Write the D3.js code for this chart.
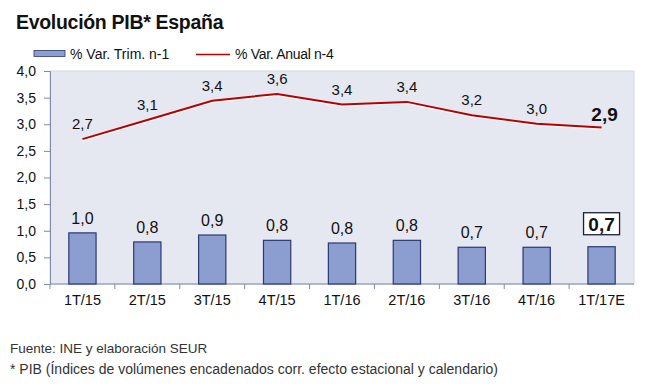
<!DOCTYPE html>
<html>
<head>
<meta charset="utf-8">
<script src="https://cdn.jsdelivr.net/npm/d3@7/dist/d3.min.js"></script>
<style>
  body { margin: 0; background: #fff; }
  svg { display: block; font-family: "Liberation Sans", Arial, sans-serif; }
</style>
</head>
<body>
<svg id="chart" width="650" height="389"></svg>
<script>
// data
var quarters = ['1T/15', '2T/15', '3T/15', '4T/15', '1T/16', '2T/16', '3T/16', '4T/16', '1T/17E']
var varTrim = [0.96, 0.79, 0.92, 0.82, 0.77, 0.82, 0.69, 0.69, 0.70]
var varAnual = [2.72, 3.08, 3.44, 3.57, 3.37, 3.42, 3.17, 3.01, 2.94]
var yTicks = [0, 0.5, 1, 1.5, 2, 2.5, 3, 3.5, 4]

var colorBar = '#8c9ecf'
var colorBarEdge = '#2b3872'
var colorLine = '#b80000'
var colorAxis = '#7f89ad'

var svg = d3.select('#chart')
var margin = { left: 50, right: 16, top: 71, bottom: 105 }
var width = 650, height = 389

var x = d3.scaleBand().domain(quarters).range([margin.left, width - margin.right]).paddingInner(0.58).paddingOuter(0.29)
var xEdges = d3.scaleBand().domain(quarters).range([margin.left, width - margin.right])
var y = d3.scaleLinear().domain([0, 4]).range([height - margin.bottom, margin.top])

var fmt = v => d3.format('.1f')(v).replace('.', ',')

// plot background
svg.append('rect')
    .attr('x', margin.left).attr('y', margin.top)
    .attr('width', width - margin.right - margin.left)
    .attr('height', y(0) - margin.top)
    .attr('fill', '#e6e8f1')
    .attr('stroke', '#d4d7e2')

// title
svg.append('text')
    .attr('x', 16).attr('y', 29)
    .attr('font-size', 19.5).attr('font-weight', 'bold').attr('fill', '#111')
    .attr('letter-spacing', -0.3)
    .text('Evolución PIB* España')

// legend
svg.append('rect').attr('x', 34).attr('y', 50.5).attr('width', 31).attr('height', 6)
    .attr('fill', colorBar).attr('stroke', colorBarEdge).attr('stroke-width', 0.8)
svg.append('text').attr('x', 70).attr('y', 59).attr('font-size', 14).attr('fill', '#111').text('% Var. Trim. n-1')
svg.append('line').attr('x1', 196).attr('x2', 230).attr('y1', 54.5).attr('y2', 54.5)
    .attr('stroke', colorLine).attr('stroke-width', 1.6)
svg.append('text').attr('x', 235).attr('y', 59).attr('font-size', 14).attr('fill', '#111')
    .attr('letter-spacing', -0.3).text('% Var. Anual n-4')

// y axis
var yAxis = svg.append('g')
    .attr('transform', `translate(${margin.left},0)`)
    .call(d3.axisLeft(y).tickValues(yTicks).tickSize(6).tickPadding(8).tickFormat(fmt))
yAxis.select('.domain').attr('stroke', colorAxis)
yAxis.selectAll('.tick line').attr('stroke', colorAxis)
yAxis.selectAll('.tick text').attr('font-size', 14).attr('fill', '#111').attr('font-family', 'Liberation Sans, Arial, sans-serif')

// x axis, ticks sit between categories
var xAxis = svg.append('g').attr('transform', `translate(0,${y(0)})`)
xAxis.append('line').attr('x1', margin.left).attr('x2', width - margin.right).attr('stroke', colorAxis)
xAxis.selectAll('.edge').data(quarters).join('line')
    .attr('x1', d => xEdges(d)).attr('x2', d => xEdges(d))
    .attr('y1', 0).attr('y2', 5).attr('stroke', colorAxis)
xAxis.selectAll('.lbl').data(quarters).join('text')
    .attr('x', d => xEdges(d) + xEdges.bandwidth() / 2)
    .attr('y', 21).attr('text-anchor', 'middle')
    .attr('font-size', 14.5).attr('fill', '#111')
    .text(d => d)

// bars
svg.selectAll('.bar').data(varTrim).join('rect')
    .attr('x', (d, i) => x(quarters[i]))
    .attr('y', d => y(d))
    .attr('width', x.bandwidth())
    .attr('height', d => y(0) - y(d))
    .attr('fill', colorBar)
    .attr('stroke', colorBarEdge)
    .attr('stroke-width', 1.2)

var cx = i => xEdges(quarters[i]) + xEdges.bandwidth() / 2
var last = varTrim.length - 1

// bar labels
svg.selectAll('.barlbl').data(varTrim).join('text')
    .filter((d, i) => i < last)
    .attr('x', (d, i) => cx(i)).attr('y', d => y(d) - 9)
    .attr('text-anchor', 'middle').attr('font-size', 16).attr('fill', '#111')
    .text(fmt)

// highlighted last bar label in a box
svg.append('rect')
    .attr('x', cx(last) - 18).attr('y', y(varTrim[last]) - 34)
    .attr('width', 36).attr('height', 22)
    .attr('fill', '#fff').attr('stroke', '#1a1f3a').attr('stroke-width', 1.3)
svg.append('text')
    .attr('x', cx(last)).attr('y', y(varTrim[last]) - 16)
    .attr('text-anchor', 'middle').attr('font-size', 19).attr('font-weight', 'bold').attr('fill', '#111')
    .text(fmt(varTrim[last]))

// line with a white shadow
var line = d3.line().x((d, i) => cx(i)).y(d => y(d))
svg.append('path').datum(varAnual)
    .attr('d', line).attr('fill', 'none')
    .attr('stroke', '#fff').attr('stroke-width', 2)
    .attr('transform', 'translate(0,1.3)')
svg.append('path').datum(varAnual)
    .attr('d', line).attr('fill', 'none')
    .attr('stroke', colorLine).attr('stroke-width', 2)

svg.selectAll('.linelbl').data(varAnual).join('text')
    .attr('x', (d, i) => cx(i) + (i === last ? 3 : 0))
    .attr('y', (d, i) => y(d) - (i === last ? 6 : 10))
    .attr('text-anchor', 'middle')
    .attr('font-size', (d, i) => i === last ? 19 : 15)
    .attr('font-weight', (d, i) => i === last ? 'bold' : 'normal')
    .attr('fill', '#111')
    .text(fmt)

// footer
svg.append('text').attr('x', 10).attr('y', 353).attr('font-size', 13.5).attr('fill', '#333')
    .text('Fuente: INE y elaboración SEUR')
svg.append('text').attr('x', 10).attr('y', 374).attr('font-size', 14).attr('fill', '#333')
    .text('* PIB (Índices de volúmenes encadenados corr. efecto estacional y calendario)')
</script>
</body>
</html>
